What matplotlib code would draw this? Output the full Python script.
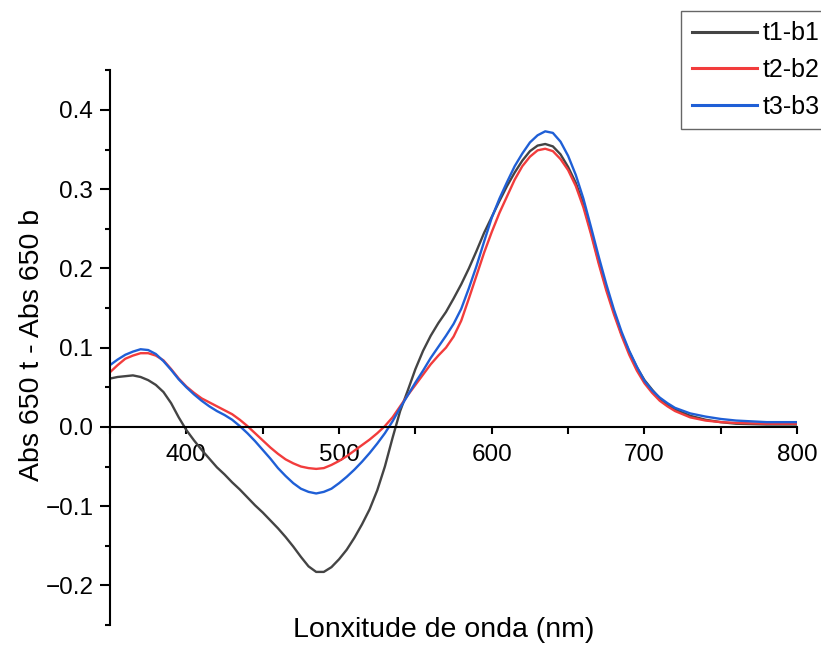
import numpy as np
import matplotlib
matplotlib.use("Agg")
import matplotlib.pyplot as plt
from matplotlib.ticker import MultipleLocator

plt.rcParams['font.family'] = ['Liberation Sans', 'DejaVu Sans']
plt.rcParams['axes.unicode_minus'] = True

# longitude de onda (nm)
wl = [350, 355, 360, 365, 370, 375, 380, 385, 390, 395,
      400, 405, 410, 415, 420, 425, 430, 435, 440, 445,
      450, 455, 460, 465, 470, 475, 480, 485, 490, 495,
      500, 505, 510, 515, 520, 525, 530, 535, 540, 545,
      550, 555, 560, 565, 570, 575, 580, 585, 590, 595,
      600, 605, 610, 615, 620, 625, 630, 635, 640, 645,
      650, 655, 660, 665, 670, 675, 680, 685, 690, 695,
      700, 705, 710, 715, 720, 730, 740, 750, 760, 780, 800]

t1_b1 = [0.061, 0.063, 0.064, 0.065, 0.063, 0.059, 0.053, 0.044, 0.030, 0.012,
         -0.004, -0.017, -0.029, -0.040, -0.051, -0.060, -0.070, -0.079, -0.089, -0.099,
         -0.108, -0.118, -0.128, -0.139, -0.151, -0.164, -0.176, -0.183, -0.183, -0.177,
         -0.167, -0.155, -0.140, -0.123, -0.104, -0.080, -0.050, -0.014, 0.020, 0.046,
         0.073, 0.096, 0.115, 0.131, 0.145, 0.162, 0.180, 0.200, 0.222, 0.245,
         0.265, 0.285, 0.304, 0.321, 0.336, 0.348, 0.355, 0.357, 0.354, 0.344,
         0.328, 0.308, 0.281, 0.246, 0.209, 0.175, 0.145, 0.117, 0.095, 0.075,
         0.059, 0.047, 0.036, 0.028, 0.022, 0.014, 0.009, 0.006, 0.004, 0.003, 0.003]

t2_b2 = [0.069, 0.078, 0.086, 0.090, 0.093, 0.093, 0.090, 0.084, 0.073, 0.061,
         0.051, 0.043, 0.036, 0.031, 0.026, 0.021, 0.016, 0.009, 0.001, -0.008,
         -0.017, -0.026, -0.034, -0.041, -0.046, -0.050, -0.052, -0.053, -0.052, -0.048,
         -0.043, -0.037, -0.030, -0.023, -0.016, -0.008, 0.001, 0.012, 0.026, 0.040,
         0.053, 0.066, 0.079, 0.090, 0.100, 0.114, 0.134, 0.162, 0.191, 0.220,
         0.246, 0.270, 0.291, 0.312, 0.329, 0.341, 0.349, 0.351, 0.348, 0.338,
         0.324, 0.304, 0.277, 0.243, 0.206, 0.172, 0.142, 0.115, 0.091, 0.071,
         0.055, 0.043, 0.033, 0.026, 0.020, 0.012, 0.008, 0.006, 0.005, 0.004, 0.004]

t3_b3 = [0.078, 0.085, 0.091, 0.095, 0.098, 0.097, 0.092, 0.083, 0.072, 0.060,
         0.050, 0.041, 0.033, 0.026, 0.020, 0.015, 0.009, 0.001, -0.008, -0.018,
         -0.029, -0.040, -0.052, -0.062, -0.071, -0.078, -0.082, -0.084, -0.082, -0.078,
         -0.071, -0.063, -0.054, -0.044, -0.033, -0.021, -0.008, 0.007, 0.024, 0.040,
         0.056, 0.071, 0.087, 0.101, 0.115, 0.130, 0.149, 0.175, 0.203, 0.234,
         0.264, 0.288, 0.309, 0.329, 0.345, 0.359, 0.368, 0.373, 0.371, 0.360,
         0.342, 0.318, 0.288, 0.252, 0.215, 0.180, 0.148, 0.120, 0.096, 0.076,
         0.058, 0.046, 0.037, 0.030, 0.024, 0.017, 0.013, 0.010, 0.008, 0.006, 0.006]

fig = plt.figure(figsize=(8.21, 6.45), dpi=100)
ax = fig.add_axes([0.134, 0.031, 0.837, 0.860])

ax.plot(wl, t1_b1, color='#444444', lw=1.7, label='t1-b1')
ax.plot(wl, t2_b2, color='#f23c3c', lw=1.7, label='t2-b2')
ax.plot(wl, t3_b3, color='#1f5fd6', lw=1.7, label='t3-b3')

ax.set_xlim(350, 800)
ax.set_ylim(-0.25, 0.45)

# eixos estilo Origin
ax.spines['top'].set_visible(False)
ax.spines['right'].set_visible(False)
ax.spines['bottom'].set_position(('data', 0))
ax.spines['left'].set_linewidth(1.5)
ax.spines['bottom'].set_linewidth(1.5)

ax.set_xticks([400, 500, 600, 700, 800])
ax.xaxis.set_minor_locator(MultipleLocator(50))
ax.set_yticks([-0.2, -0.1, 0.0, 0.1, 0.2, 0.3, 0.4])
ax.yaxis.set_minor_locator(MultipleLocator(0.05))
ax.yaxis.set_major_formatter(plt.FuncFormatter(lambda v, p: f"{v:.1f}".replace('-', '\u2212')))

ax.tick_params(axis='x', which='major', direction='out', length=5, width=1.5, pad=7, labelsize=17.5)
ax.tick_params(axis='x', which='minor', direction='out', length=5, width=1.5)
ax.tick_params(axis='y', which='major', direction='out', length=7, width=1.5, pad=5, labelsize=17.5)
ax.tick_params(axis='y', which='minor', direction='out', length=3.5, width=1.5)

ax.set_xlabel('Lonxitude de onda (nm)', fontsize=20.5)
ax.xaxis.set_label_coords(0.485, 0.014)
ax.set_ylabel('Abs 650 t - Abs 650 b', fontsize=20.5)
ax.yaxis.set_label_coords(-0.094, 0.505)

leg = ax.legend(loc='upper left', bbox_to_anchor=(681 / 821, 1 - 11 / 645),
                bbox_transform=fig.transFigure, fontsize=18, frameon=True,
                fancybox=False, framealpha=1, edgecolor='#666666',
                handlelength=2.6, handletextpad=0.25, labelspacing=0.5,
                borderpad=0.42, borderaxespad=0)
leg.get_frame().set_linewidth(1.0)
for line in leg.get_lines():
    line.set_linewidth(2.2)

fig.savefig('out.png', dpi=100)
